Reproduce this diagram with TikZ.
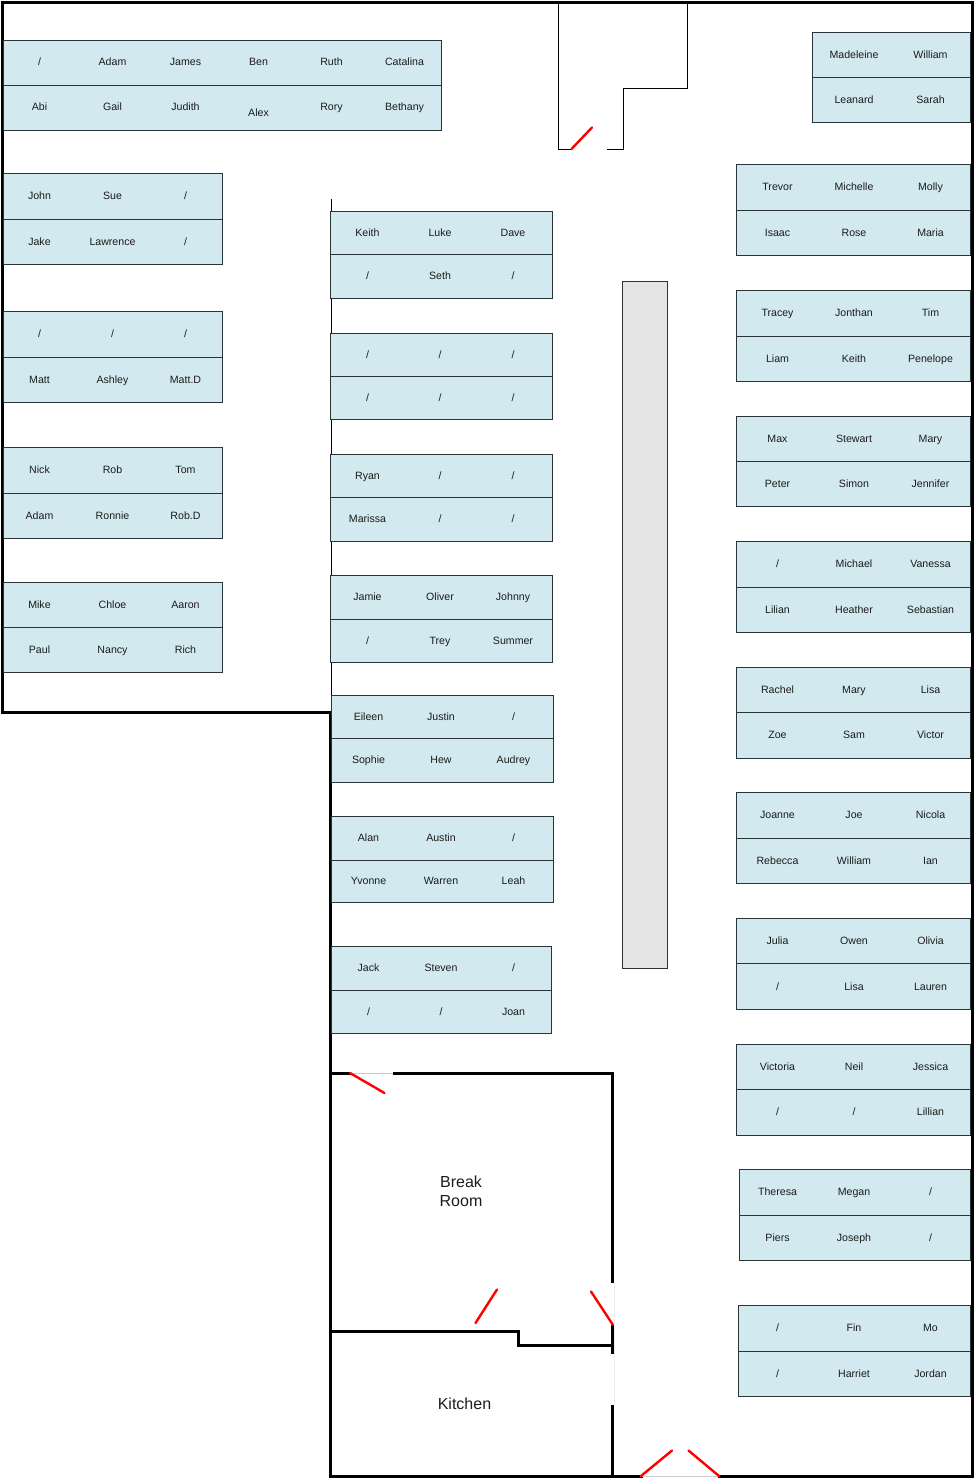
\documentclass[tikz,border=0pt]{standalone}
\usepackage{fontspec}
\setmainfont{Liberation Sans}
\definecolor{deskfill}{HTML}{D2E9EF}
\definecolor{deskedge}{HTML}{2A3335}
\definecolor{ink}{HTML}{1C1C1C}
\definecolor{benchfill}{HTML}{E4E4E4}
\tikzset{
  wall/.style={line width=3pt,black,line cap=rect,line join=miter},
  thinwall/.style={line width=1pt,black,line join=miter},
  doorleaf/.style={line width=2.4pt,red,line cap=round},
  doorgap/.style={line width=1pt,black!20},
  deskbox/.style={draw=deskedge,fill=deskfill,line width=0.9pt,xshift=-0.5pt,yshift=0.5pt},
  seat/.style={inner sep=0pt,text=ink,yshift=-1pt,font=\fontsize{10.6}{12}\selectfont,text height=7.6pt,text depth=2.2pt},
  roomlabel/.style={inner sep=0pt,text=ink,yshift=-1pt,font=\fontsize{16}{19.5}\selectfont,align=center}
}
% id, x0, x1, y0, ymid, y1, columns, top row, bottom row
\newcommand\desk[9]{%
  \draw[deskbox] (#2,#4) rectangle (#3,#6);
  \draw[deskbox] (#2,#5) -- (#3,#5);
  \pgfmathsetmacro\ytop{(#4+#5)/2-0.5}
  \pgfmathsetmacro\ybot{(#5+#6)/2-0.5}
  \foreach \n [count=\i] in {#8}{
    \pgfmathsetmacro\cx{{#7}[\i-1]}
    \node[seat] (#1t\i) at (\cx,\ytop) {\n};
  }
  \foreach \n [count=\i] in {#9}{
    \pgfmathsetmacro\cx{{#7}[\i-1]}
    \node[seat] (#1b\i) at (\cx,\ybot) {\n};
  }
}
\begin{document}
\begin{tikzpicture}[x=1pt,y=-1pt]
\useasboundingbox (0,0) rectangle (975,1478);
% bench
\draw[fill=benchfill,draw=deskedge,line width=0.9pt,xshift=-0.5pt] (622.5,281.5) rectangle (667.5,968.5);
% thin partition and entry lobby
\draw[thinwall] (331,199) -- (331,712);
\draw[thinwall] (571,149.5) -- (558.5,149.5) -- (558.5,2) ;
\draw[thinwall] (607,149.5) -- (623,149.5) -- (623,88.5) -- (687.5,88.5) -- (687.5,2);
% outer walls
\draw[wall] (2,712) -- (2,2) -- (972,2) -- (972,1476) -- (719,1476);
\draw[wall] (641,1476) -- (330,1476) -- (330,712) -- (2,712);
% break room and kitchen
\draw[wall] (330,1073.5) -- (349,1073.5);
\draw[wall] (394,1073.5) -- (612.5,1073.5) -- (612.5,1281);
\draw[wall] (612.5,1326) -- (612.5,1352);
\draw[wall] (612.5,1406) -- (612.5,1475);
\draw[wall] (330,1331.5) -- (518.5,1331.5) -- (518.5,1345) -- (612.5,1345);
% door openings
\draw[doorgap] (350,1073.5) -- (393,1073.5);
\draw[doorgap] (641,1476.5) -- (719,1476.5);
\draw[line width=1pt,black!7] (614,1282) -- (614,1405);
% door leaves
\draw[doorleaf] (571.5,149) -- (592,127.5);
\draw[doorleaf] (350,1073) -- (384.5,1093);
\draw[doorleaf] (475.5,1323) -- (497,1289.5);
\draw[doorleaf] (591,1291.5) -- (613,1325);
\draw[doorleaf] (641,1476) -- (672,1450.5);
\draw[doorleaf] (719,1476) -- (688.5,1450.5);
% top row desk
\draw[deskbox] (3.5,40.5) rectangle (442,130.5);
\draw[deskbox] (3.5,85.5) -- (442,85.5);
\foreach \cx/\cy/\n [count=\i] in {39.5/61.5/{/},112.5/61.5/Adam,185.5/61.5/James,258.5/61.5/Ben,331.5/61.5/Ruth,404.5/61.5/Catalina,39.5/107/Abi,112.5/107/Gail,185.5/107/Judith,258.5/113/Alex,331.5/107/Rory,404.5/107/Bethany}
  {\node[seat] (top\i) at (\cx,\cy) {\n};}
% left desks
\def\colL{39.5,112.5,185.5}
\desk{la}{3.5}{223}{174}{219.5}{265}{\colL}{John,Sue,/}{Jake,Lawrence,/}
\desk{lb}{3.5}{223}{312}{357.5}{403}{\colL}{/,/,/}{Matt,Ashley,Matt.D}
\desk{lc}{3.5}{223}{448}{493.5}{539}{\colL}{Nick,Rob,Tom}{Adam,Ronnie,Rob.D}
\desk{ld}{3.5}{223}{582.5}{628}{673}{\colL}{Mike,Chloe,Aaron}{Paul,Nancy,Rich}
% middle desks
\def\colM{367.5,440,513}
\def\colN{368.5,441,513.5}
\desk{ma}{331}{552.5}{212}{254.5}{299}{\colM}{Keith,Luke,Dave}{/,Seth,/}
\desk{mb}{331}{552.5}{333.5}{376.5}{420}{\colM}{/,/,/}{/,/,/}
\desk{mc}{331}{552.5}{455}{498}{541.5}{\colM}{Ryan,/,/}{Marissa,/,/}
\desk{md}{331}{552.5}{576}{619.5}{663}{\colM}{Jamie,Oliver,Johnny}{/,Trey,Summer}
\desk{me}{332}{553.5}{696}{739}{782.5}{\colN}{Eileen,Justin,/}{Sophie,Hew,Audrey}
\desk{mf}{332}{553.5}{816.5}{860.5}{903}{\colN}{Alan,Austin,/}{Yvonne,Warren,Leah}
\desk{mg}{332}{552}{947}{990.5}{1033.5}{\colN}{Jack,Steven,/}{/,/,Joan}
% right desks
\def\colR{777.5,854,930.5}
\desk{rt}{813}{970.5}{32.5}{77.5}{123}{854,930.5}{Madeleine,William}{Leanard,Sarah}
\desk{ra}{737}{970.5}{165}{210.5}{256}{\colR}{Trevor,Michelle,Molly}{Isaac,Rose,Maria}
\desk{rb}{737}{970.5}{291}{336.5}{381.5}{\colR}{Tracey,Jonthan,Tim}{Liam,Keith,Penelope}
\desk{rc}{737}{970.5}{416.5}{461.5}{507}{\colR}{Max,Stewart,Mary}{Peter,Simon,Jennifer}
\desk{rd}{737}{970.5}{542}{587.5}{633}{\colR}{/,Michael,Vanessa}{Lilian,Heather,Sebastian}
\desk{re}{737}{970.5}{667.5}{713}{758.5}{\colR}{Rachel,Mary,Lisa}{Zoe,Sam,Victor}
\desk{rf}{737}{970.5}{793}{838.5}{884}{\colR}{Joanne,Joe,Nicola}{Rebecca,William,Ian}
\desk{rg}{737}{970.5}{918.5}{964}{1010}{\colR}{Julia,Owen,Olivia}{/,Lisa,Lauren}
\desk{rh}{737}{970.5}{1044.5}{1090}{1135.5}{\colR}{Victoria,Neil,Jessica}{/,/,Lillian}
\desk{ri}{740}{970.5}{1170}{1215.5}{1261}{\colR}{Theresa,Megan,/}{Piers,Joseph,/}
\desk{rj}{739}{970.5}{1306}{1351.5}{1397}{\colR}{/,Fin,Mo}{/,Harriet,Jordan}
% rooms
\node[roomlabel] (break) at (461,1190.5) {Break\\Room};
\node[roomlabel] (kitchen) at (464.5,1403) {Kitchen};
\end{tikzpicture}
\end{document}
